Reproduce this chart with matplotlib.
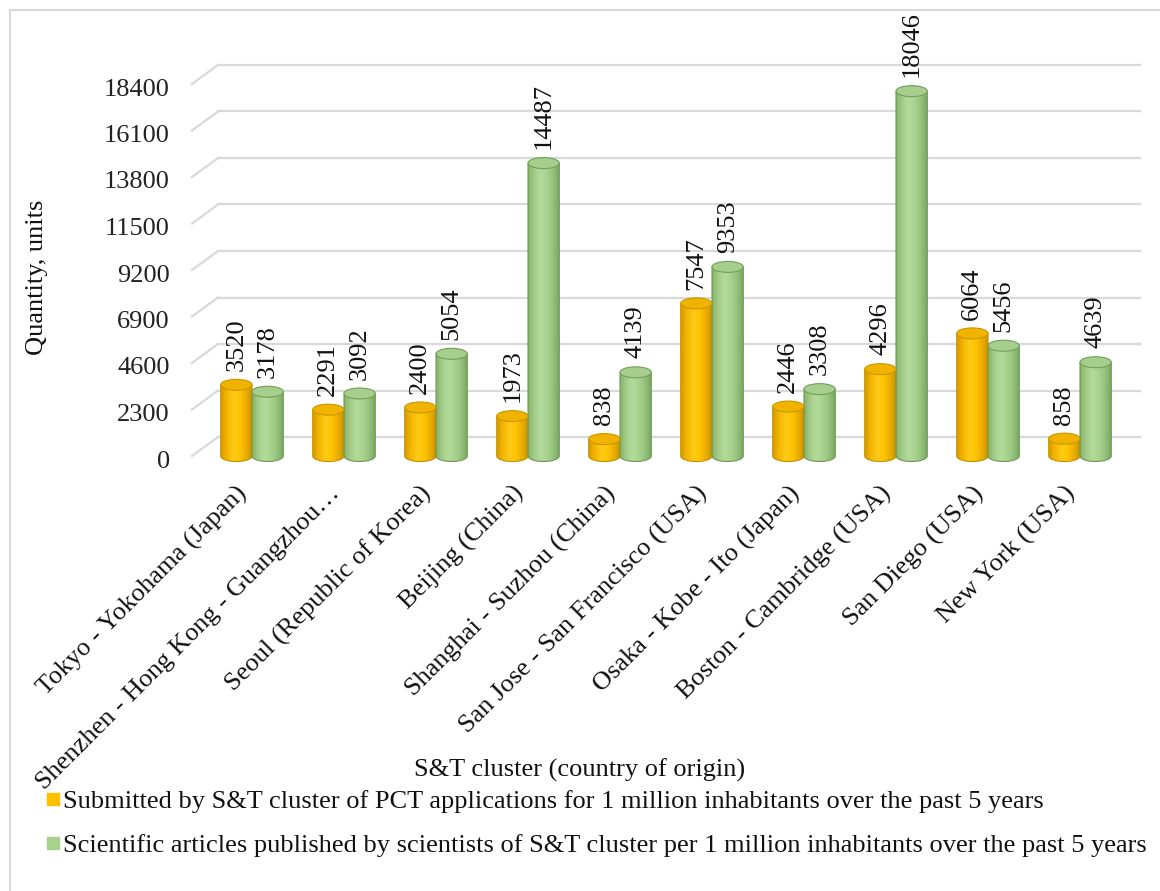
import numpy as np
import matplotlib
matplotlib.use("Agg")
import matplotlib.pyplot as plt
from matplotlib.colors import LinearSegmentedColormap
from matplotlib.patches import Polygon, Ellipse
from matplotlib.lines import Line2D
import matplotlib.transforms as mtransforms

categories = [
    "Tokyo - Yokohama (Japan)",
    "Shenzhen - Hong Kong - Guangzhou…",
    "Seoul (Republic of Korea)",
    "Beijing (China)",
    "Shanghai - Suzhou (China)",
    "San Jose - San Francisco (USA)",
    "Osaka - Kobe - Ito (Japan)",
    "Boston - Cambridge (USA)",
    "San Diego (USA)",
    "New York (USA)",
]
pct_applications = [3520, 2291, 2400, 1973, 838, 7547, 2446, 4296, 6064, 858]
articles = [3178, 3092, 5054, 14487, 4139, 9353, 3308, 18046, 5456, 4639]
y_ticks = [0, 2300, 4600, 6900, 9200, 11500, 13800, 16100, 18400]
series_names = [
    "Submitted by S&T cluster of PCT applications for 1 million inhabitants over the past 5 years",
    "Scientific articles published by scientists of S&T cluster per 1 million inhabitants over the past 5 years",
]

FONT = "Liberation Serif"
plt.rcParams["font.family"] = [FONT, "DejaVu Serif"]

W, H, DPI = 1160, 891, 100
fig = plt.figure(figsize=(W / DPI, H / DPI), dpi=DPI)
fig.patch.set_facecolor("white")

ymax = y_ticks[-1]
zero_px, top_px = 456, 84          # pixel rows of value 0 and of the top tick
px_per_unit = (zero_px - top_px) / ymax
below_px = 12                      # room below 0 for the cylinder bottoms
ax_l, ax_r = 206, 1126
ax_b, ax_t = zero_px + below_px, top_px
ax = fig.add_axes([ax_l / W, 1 - ax_b / H, (ax_r - ax_l) / W, (ax_b - ax_t) / H])
y_lo = -below_px / px_per_unit
ax.set_xlim(-0.5, len(categories) - 0.5)
ax.set_ylim(y_lo, ymax)
for s in ax.spines.values():
    s.set_visible(False)
ax.patch.set_alpha(0)

ax_w_px = ax_r - ax_l

# border of chart area
fig.add_artist(Line2D([10 / W, 10 / W], [0, 1 - 10 / H], color="#d9d9d9", lw=1.5))
fig.add_artist(Line2D([10 / W, 1], [1 - 10 / H, 1 - 10 / H], color="#d9d9d9", lw=1.5))

# 3D-like gridlines (back wall) with diagonal connectors
back_dy_px = 19
dv = back_dy_px / px_per_unit
trans = mtransforms.blended_transform_factory(ax.transAxes, ax.transData)
x_front = (192 - ax_l) / ax_w_px
x_back = (218 - ax_l) / ax_w_px
x_end = (1140 - ax_l) / ax_w_px
for v in y_ticks:
    ax.add_line(Line2D([x_back, x_end], [v + dv, v + dv], transform=trans,
                       color="#d9d9d9", lw=1.6, clip_on=False, zorder=0))
    ax.add_line(Line2D([x_front, x_back], [v, v + dv], transform=trans,
                       color="#d9d9d9", lw=1.6, clip_on=False, zorder=0))

ax.set_yticks(y_ticks)
ax.set_yticklabels([str(t) for t in y_ticks], fontsize=19, color="#222222")
ax.tick_params(axis="y", length=0, pad=26)
for lab in ax.get_yticklabels():
    lab.set_transform(lab.get_transform() +
                      mtransforms.ScaledTranslation(0, -3 / DPI, fig.dpi_scale_trans))

# cylinders
bar_w = 0.34
ell_h_px = 11
b = ell_h_px / 2 / px_per_unit

orange_cmap = LinearSegmentedColormap.from_list(
    "o", ["#D89C00", "#F5B800", "#FFCB1A", "#FFC400", "#E9AC00", "#CC9000"])
green_cmap = LinearSegmentedColormap.from_list(
    "g", ["#86B36B", "#A4CD89", "#B3DA9B", "#A8D28E", "#94C17A", "#78A45E"])
styles = [
    (orange_cmap, "#C58E00", "#F0B400", "#C99500"),
    (green_cmap, "#6F9957", "#A6CE8C", "#739E5A"),
]
grad = np.linspace(0, 1, 128).reshape(1, -1)
theta = np.linspace(0, np.pi, 60)

x_idx = np.arange(len(categories))
for si, (vals, offs) in enumerate([(pct_applications, -bar_w / 2), (articles, bar_w / 2)]):
    cmap, edge, topc, topedge = styles[si]
    for i, v in enumerate(vals):
        xc = x_idx[i] + offs
        x0, x1 = xc - bar_w / 2, xc + bar_w / 2
        arc_x = xc - (bar_w / 2) * np.cos(theta)
        arc_y = -b * np.sin(theta)
        verts = np.column_stack([np.r_[arc_x, x1, x0], np.r_[arc_y, v, v]])
        body = Polygon(verts, closed=True, facecolor="none", edgecolor=edge,
                       lw=0.8, zorder=3, clip_on=False)
        ax.add_patch(body)
        im = ax.imshow(grad, cmap=cmap, extent=(x0, x1, -b, v), aspect="auto",
                       interpolation="bilinear", zorder=2)
        im.set_clip_path(body)
        top = Ellipse((xc, v), bar_w, 2 * b, facecolor=topc, edgecolor=topedge,
                      lw=0.8, zorder=4, clip_on=False)
        ax.add_patch(top)
        ax.annotate(str(v), (xc, v + b), xytext=(0, 6), textcoords="offset points",
                    rotation=90, ha="center", va="bottom", fontsize=19,
                    color="#111111", zorder=5, annotation_clip=False)

ax.set_xlim(-0.5, len(categories) - 0.5)
ax.set_ylim(y_lo, ymax)

# x tick labels
ax.set_xticks(x_idx)
ax.set_xticklabels(categories, rotation=45, ha="right", va="center",
                   rotation_mode="anchor", fontsize=19, color="#111111")
ax.tick_params(axis="x", length=0, pad=0)
for lab in ax.get_xticklabels():
    lab.set_transform(lab.get_transform() +
                      mtransforms.ScaledTranslation(-8 / DPI, -(34 - below_px) / DPI,
                                                    fig.dpi_scale_trans))

# axis titles
fig.text(37 / W, 1 - 277 / H, "Quantity, units", rotation=90, ha="center", va="center",
         fontsize=19, color="#111111")
fig.text(580 / W, 1 - 770 / H, "S&T cluster (country of origin)", ha="center", va="center",
         fontsize=19, color="#111111")

# legend
handles = [
    Line2D([], [], marker="s", linestyle="none", markersize=9,
           markerfacecolor="#FFC000", markeredgecolor="#FFC000"),
    Line2D([], [], marker="s", linestyle="none", markersize=9,
           markerfacecolor="#A9D18E", markeredgecolor="#A9D18E"),
]
fig.legend(handles, series_names, loc="upper left", bbox_to_anchor=(46 / W, 1 - 790 / H),
           frameon=False, fontsize=19, handlelength=0.5, handletextpad=0.15,
           labelspacing=0.75, borderpad=0, borderaxespad=0, labelcolor="#111111")

fig.savefig("out.png", dpi=DPI, facecolor="white")
